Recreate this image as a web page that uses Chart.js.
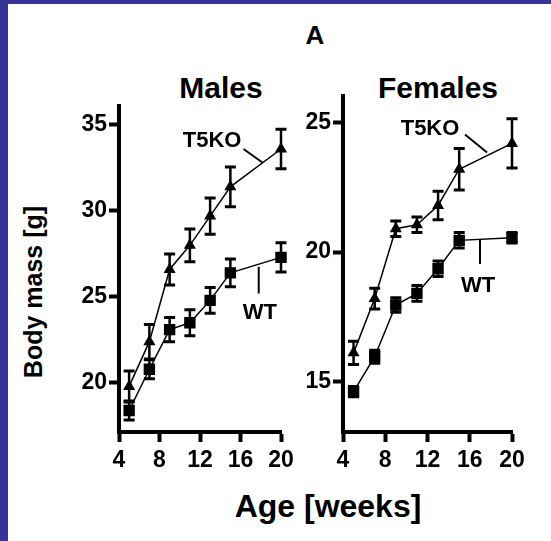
<!DOCTYPE html>
<html lang="en">
<head>
<meta charset="UTF-8">
<title>Body mass - Males / Females</title>
<script src="https://cdn.jsdelivr.net/npm/chart.js@4.4.1/dist/chart.umd.min.js"></script>
<style>
  body { margin: 0; background: #fff; }
  #page { position: relative; width: 551px; height: 541px; overflow: hidden; background: #fff;
          font-family: "Liberation Sans", Arial, sans-serif; font-weight: bold; color: #000; }
  .edge { position: absolute; background: #363399; }
  .lbl { position: absolute; white-space: nowrap; line-height: 1; transform: translate(-50%, -50%); }
  .box { position: absolute; }
</style>
</head>
<body>
<div id="page">
  <div class="edge" style="left:0;top:0;width:8px;height:541px"></div>
  <div class="edge" style="left:0;top:0;width:551px;height:4px"></div>

  <div class="lbl" style="left:315px;top:35px;font-size:26px">A</div>
  <div class="lbl" style="left:221px;top:88px;font-size:30px">Males</div>
  <div class="lbl" style="left:438px;top:88px;font-size:30px">Females</div>
  <div class="lbl" style="left:33px;top:292px;font-size:25px;transform:translate(-50%,-50%) rotate(-90deg)">Body mass [g]</div>
  <div class="lbl" style="left:328px;top:506px;font-size:32px">Age [weeks]</div>

  <div class="box" style="left:60px;top:90px;width:240px;height:400px"><canvas id="males"></canvas></div>
  <div class="box" style="left:280px;top:80px;width:260px;height:410px"><canvas id="females"></canvas></div>
</div>

<script>
  // Age in weeks, mean body mass (g) and SEM
  const weeks = [5, 7, 9, 11, 13, 15, 20];

  const maleKO = [19.8, 22.4, 26.6, 28.0, 29.7, 31.4, 33.6];
  const maleKOErr = [0.9, 1.0, 0.9, 0.95, 1.05, 1.15, 1.15];
  const maleWT = [18.4, 20.8, 23.1, 23.5, 24.8, 26.4, 27.3];
  const maleWTErr = [0.55, 0.55, 0.7, 0.75, 0.75, 0.8, 0.85];

  const femaleKO = [16.1, 18.2, 20.9, 21.05, 21.8, 23.2, 24.2];
  const femaleKOErr = [0.45, 0.4, 0.3, 0.3, 0.55, 0.8, 0.95];
  const femaleWT = [14.6, 15.95, 17.95, 18.4, 19.35, 20.45, 20.55];
  const femaleWTErr = [0.2, 0.25, 0.28, 0.3, 0.3, 0.3, 0.2];

  const xTicks = [4, 8, 12, 16, 20];
  const maleYTicks = [20, 25, 30, 35];
  const femaleYTicks = [15, 20, 25];

  const FONT = '"Liberation Sans", Arial, sans-serif';

  // vertical SEM bars with caps, placed through the chart scales
  const errorBars = {
    id: 'errorBars',
    afterDatasetsDraw(chart) {
      const ctx = chart.ctx;
      const ys = chart.scales.y;
      chart.data.datasets.forEach((ds, i) => {
        const meta = chart.getDatasetMeta(i);
        ctx.save();
        ctx.strokeStyle = '#000';
        meta.data.forEach((pt, j) => {
          const v = ds.data[j].y, e = ds.err[j];
          const top = ys.getPixelForValue(v + e);
          const bot = ys.getPixelForValue(v - e);
          ctx.lineWidth = 2.5;
          ctx.beginPath();
          ctx.moveTo(pt.x, top); ctx.lineTo(pt.x, bot);
          ctx.stroke();
          ctx.lineWidth = 3;
          ctx.beginPath();
          ctx.moveTo(pt.x - 5.5, top); ctx.lineTo(pt.x + 5.5, top);
          ctx.moveTo(pt.x - 5.5, bot); ctx.lineTo(pt.x + 5.5, bot);
          ctx.stroke();
        });
        ctx.restore();
      });
    }
  };

  // "T5KO" / "WT" labels with their leader lines, in data units
  const callouts = {
    id: 'callouts',
    afterDraw(chart, args, opts) {
      const { ctx } = chart;
      const x = chart.scales.x, y = chart.scales.y;
      ctx.save();
      ctx.fillStyle = '#000';
      ctx.strokeStyle = '#000';
      ctx.lineWidth = 2;
      ctx.font = 'bold 22px ' + FONT;
      ctx.textAlign = 'center';
      ctx.textBaseline = 'middle';
      (opts.items || []).forEach(it => {
        ctx.fillText(it.text, x.getPixelForValue(it.at[0]), y.getPixelForValue(it.at[1]));
        ctx.beginPath();
        ctx.moveTo(x.getPixelForValue(it.from[0]), y.getPixelForValue(it.from[1]));
        ctx.lineTo(x.getPixelForValue(it.to[0]), y.getPixelForValue(it.to[1]));
        ctx.stroke();
      });
      ctx.restore();
    }
  };

  function series(label, vals, errs, style, radius) {
    return {
      label: label,
      data: weeks.map((w, i) => ({ x: w, y: vals[i] })),
      err: errs,
      showLine: true,
      borderColor: '#000',
      borderWidth: 1.5,
      backgroundColor: '#000',
      pointStyle: style,
      pointRadius: radius,
      pointHoverRadius: radius,
      clip: false
    };
  }

  function panel(id, ko, koErr, wt, wtErr, yMin, yMax, yTicks, yWidth, padding, items) {
    const tickFont = { family: FONT, size: 23, weight: 'bold' };
    const axisGrid = { drawOnChartArea: false, tickLength: 10, tickWidth: 4, tickColor: '#000' };
    new Chart(document.getElementById(id), {
      type: 'scatter',
      data: {
        datasets: [
          series('T5KO', ko, koErr, 'triangle', 5.5),
          series('WT', wt, wtErr, 'rect', 7)
        ]
      },
      options: {
        responsive: true,
        maintainAspectRatio: false,
        animation: false,
        layout: { padding: padding },
        scales: {
          x: {
            type: 'linear', min: 4, max: 20,
            afterBuildTicks: s => { s.ticks = xTicks.map(v => ({ value: v })); },
            afterFit: s => { s.height = 58; },
            ticks: { font: tickFont, color: '#000', padding: 5, maxRotation: 0 },
            grid: axisGrid,
            border: { width: 4, color: '#000' }
          },
          y: {
            type: 'linear', min: yMin, max: yMax,
            afterBuildTicks: s => { s.ticks = yTicks.map(v => ({ value: v })); },
            afterFit: s => { s.width = yWidth; },
            ticks: { font: tickFont, color: '#000', padding: 2 },
            grid: axisGrid,
            border: { width: 4, color: '#000' }
          }
        },
        plugins: {
          legend: { display: false },
          tooltip: { enabled: false },
          callouts: { items: items }
        }
      },
      plugins: [errorBars, callouts]
    });
  }

  panel('males', maleKO, maleKOErr, maleWT, maleWTErr, 17.15, 36.1, maleYTicks, 59,
    { top: 16, right: 19, left: 0, bottom: 0 },
    [
      { text: 'T5KO', at: [13.2, 34.05], from: [16.3, 33.6], to: [18.2, 32.8] },
      { text: 'WT', at: [17.9, 24.05], from: [17.8, 26.75], to: [17.8, 25.2] }
    ]);

  panel('females', femaleKO, femaleKOErr, femaleWT, femaleWTErr, 13.04, 26.04, femaleYTicks, 63,
    { top: 14, right: 28, left: 0, bottom: 0 },
    [
      { text: 'T5KO', at: [12.24, 24.77], from: [15.55, 24.54], to: [17.64, 23.85] },
      { text: 'WT', at: [16.8, 18.7], from: [16.97, 20.5], to: [16.97, 19.54] }
    ]);
</script>
</body>
</html>
